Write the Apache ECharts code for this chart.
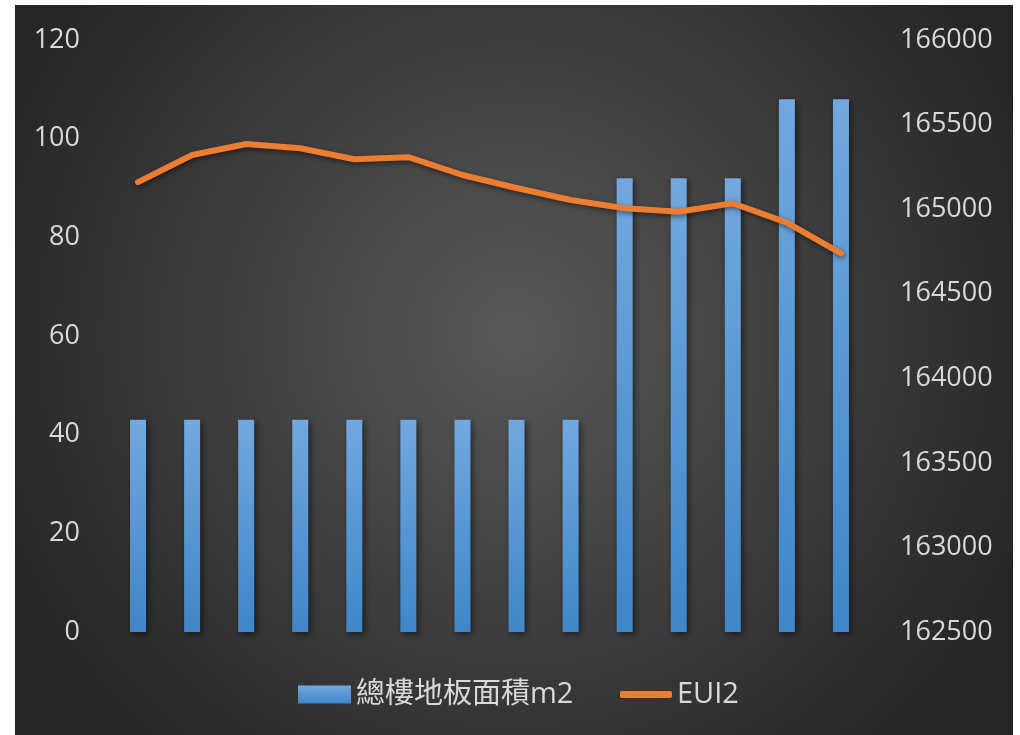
<!DOCTYPE html>
<html><head><meta charset="utf-8">
<script src="https://cdn.jsdelivr.net/npm/echarts@6/dist/echarts.min.js"></script>
<style>
html,body{margin:0;padding:0;background:#fff;width:1020px;height:735px;overflow:hidden;}
#c{position:absolute;left:15px;top:5px;width:998px;height:730px;}
</style></head>
<body><div id="c"></div>
<script>
const categories = ['1','2','3','4','5','6','7','8','9','10','11','12','13','14'];
const floorArea = [43,43,43,43,43,43,43,43,43,92,92,92,108,108];
const eui2 = [165160,165320,165385,165360,165295,165307,165202,165125,165054,165005,164985,165035,164920,164739];
const leftTicks = {min:0,max:120,interval:20};
const rightTicks = {min:162500,max:166000,interval:500};
const names = ['總樓地板面積m2','EUI2'];

const font = '"Open Sans", "Noto Sans CJK TC", sans-serif';
const legText = {color:'#D9D9D9',fontSize:29,fontFamily:font};
const chart = echarts.init(document.getElementById('c'));
chart.setOption({
  backgroundColor: {
    type:'radial', x:0.5, y:0.45, r:0.75,
    colorStops:[{offset:0,color:'#585858'},{offset:1,color:'#262626'}]
  },
  textStyle:{fontFamily:font},
  grid:{left:96,right:145,top:35,bottom:103},
  legend:[
    {left:283, top:675, padding:0, itemWidth:53, itemHeight:18, itemGap:0,
     textStyle:legText, data:[{name:names[0],icon:'rect'}]},
    {left:605, top:675, padding:0, itemWidth:52, itemHeight:7, itemGap:0,
     textStyle:legText, data:[{name:names[1],icon:'roundRect'}]}
  ],
  xAxis:{type:'category',data:categories,axisLine:{show:false},axisTick:{show:false},axisLabel:{show:false}},
  yAxis:[
    {type:'value',min:leftTicks.min,max:leftTicks.max,interval:leftTicks.interval,
     splitLine:{show:false},axisLine:{show:false},axisTick:{show:false},
     axisLabel:{color:'#D9D9D9',fontSize:27,margin:31,fontFamily:font}},
    {type:'value',min:rightTicks.min,max:rightTicks.max,interval:rightTicks.interval,
     splitLine:{show:false},axisLine:{show:false},axisTick:{show:false},
     axisLabel:{color:'#D9D9D9',fontSize:27,margin:32,fontFamily:font,formatter:v=>String(v)}}
  ],
  series:[
    {name:names[0],type:'bar',data:floorArea,barWidth:16,yAxisIndex:0,
     itemStyle:{color:{type:'linear',x:0,y:0,x2:0,y2:1,colorStops:[{offset:0,color:'#72A8DE'},{offset:1,color:'#3F86C8'}]},
       shadowBlur:6,shadowColor:'rgba(0,0,0,0.55)',shadowOffsetX:2,shadowOffsetY:2}},
    {name:names[1],type:'line',data:eui2,yAxisIndex:1,symbol:'none',smooth:false,
     itemStyle:{color:'#ED7D31'},
     lineStyle:{color:'#ED7D31',width:6,cap:'round',join:'round',
       shadowBlur:5,shadowColor:'rgba(0,0,0,0.5)',shadowOffsetX:1,shadowOffsetY:2}}
  ]
});
</script></body></html>
